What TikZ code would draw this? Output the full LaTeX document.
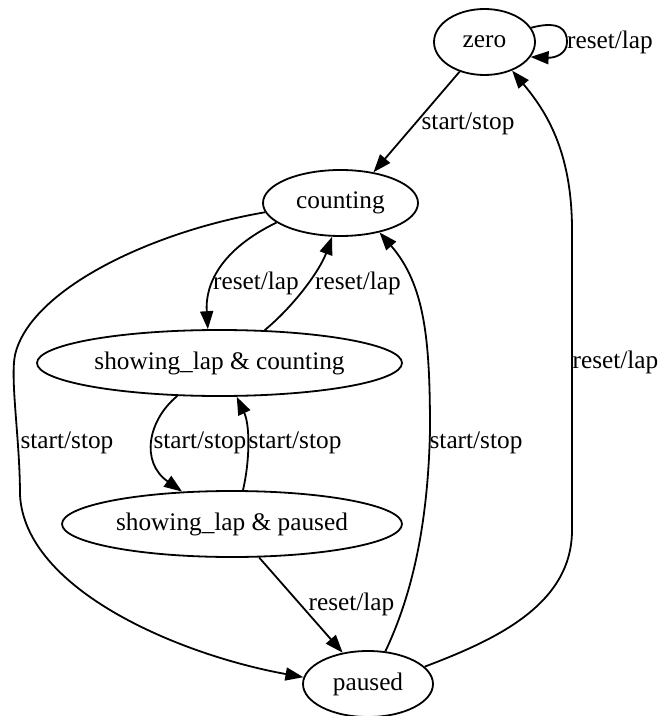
\documentclass[tikz,border=0pt]{standalone}
\usepackage{fontspec}
\setmainfont{Liberation Serif}
\usetikzlibrary{shapes.geometric,arrows.meta}
\begin{document}
\begin{tikzpicture}[x=0.5pt,y=-0.5pt,
  every node/.style={font=\fontsize{12.65}{15}\selectfont},
  state/.style={draw,ellipse,line width=0.9pt,inner sep=0pt,minimum height=33pt},
  edge/.style={line width=0.9pt,-{Triangle[length=9pt,width=6.5pt]}},
  lbl/.style={inner sep=0pt}]
\useasboundingbox (0,0) rectangle (661,716);
\node[state,minimum width=50.5pt] (zero) at (484.5,42) {zero};
\node[state,minimum width=77.5pt] (counting) at (340.5,203) {counting};
\node[state,minimum width=182.5pt] (slc) at (219.5,363) {showing\_lap \& counting};
\node[state,minimum width=170pt] (slp) at (232,524) {showing\_lap \& paused};
\node[state,minimum width=65pt] (paused) at (368,684) {paused};
% zero -> counting
\draw[edge] (zero.230) -- (counting.43);
\node[lbl] (l1) at (468,124) {start/stop};
% zero self loop
\draw[edge] (zero.17) .. controls (560,20) and (567,30) .. (567,42) .. controls (567,54) and (555,58) .. (zero.-18);
\node[lbl] (l2) at (610,42) {reset/lap};
% paused -> zero
\draw[edge] (paused.17) .. controls (495,640) and (572,605) .. (572,530) -- (572,230) .. controls (572,150) and (545,110) .. (zero.-46);
\node[lbl] (l3) at (615.5,362) {reset/lap};
% counting -> slc
\draw[edge] (counting.197) .. controls (220,250) and (205,285) .. (slc.109);
\node[lbl] (l4) at (256,283) {reset/lap};
% slc -> counting
\draw[edge] (slc.36) .. controls (295,305) and (320,270) .. (counting.256);
\node[lbl] (l5) at (358,283) {reset/lap};
% slc -> slp
\draw[edge] (slc.218) .. controls (148,420) and (140,462) .. (slp.147);
\node[lbl] (l6) at (200,443) {start/stop};
% slp -> slc
\draw[edge] (slp.72) .. controls (250,460) and (250,425) .. (slc.-63);
\node[lbl] (l7) at (295,443) {start/stop};
% slp -> paused
\draw[edge] (slp.-51) -- (paused.129);
\node[lbl] (l8) at (351.5,604) {reset/lap};
% counting -> paused
\draw[edge] (counting.187) .. controls (150,232) and (30,290) .. (15,355) .. controls (10,380) and (20,440) .. (20,495) .. controls (25,590) and (180,655) .. (paused.174);
\node[lbl] (l9) at (67,443) {start/stop};
% paused -> counting
\draw[edge] (paused.62) .. controls (412,595) and (428,525) .. (430,430) .. controls (430,340) and (425,285) .. (counting.-37);
\node[lbl] (l10) at (476,443) {start/stop};
\end{tikzpicture}
\end{document}
